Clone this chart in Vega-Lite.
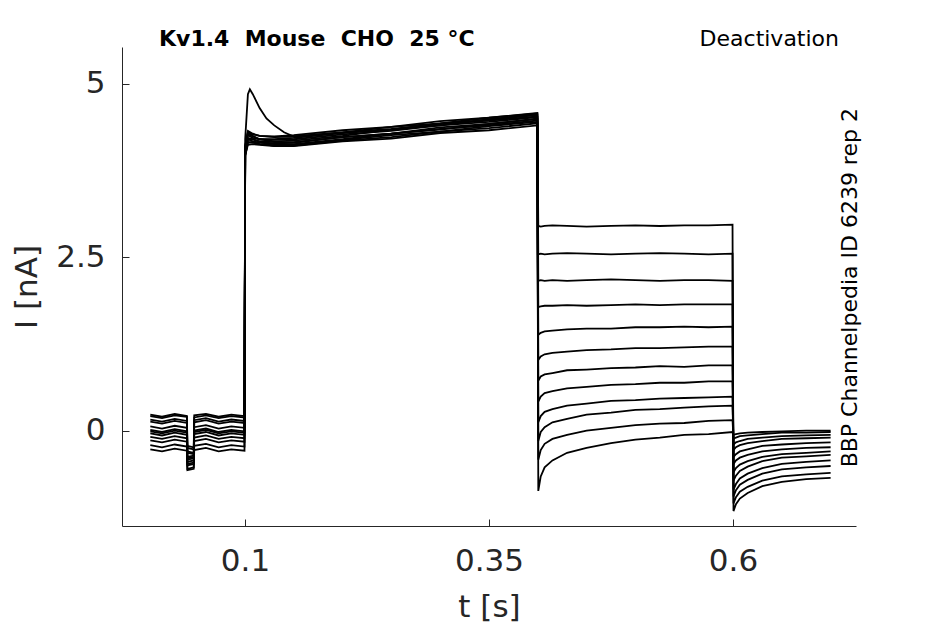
{
  "$schema": "https://vega.github.io/schema/vega-lite/v6.json",
  "autosize": {"type": "none"},
  "width": 734,
  "height": 479,
  "padding": {"left": 122, "top": 47, "right": 89, "bottom": 98},
  "background": "white",
  "config": {
    "font": "DejaVu Sans",
    "view": {"stroke": null},
    "axis": {
      "domainColor": "#262626", "tickColor": "#262626", "labelColor": "#262626", "titleColor": "#262626",
      "labelFont": "DejaVu Sans", "titleFont": "DejaVu Sans", "labelFontSize": 31, "titleFontSize": 31,
      "titleFontWeight": "normal", "grid": false, "tickSize": -7, "domainWidth": 1, "tickWidth": 1
    }
  },
  "encoding": {
    "x": {"field": "t", "type": "quantitative",
      "scale": {"domain": [-0.026, 0.726], "nice": false, "zero": false},
      "axis": {"values": [0.1, 0.35, 0.6], "labelExpr": "'' + datum.value", "title": "t [s]", "labelPadding": 27, "titlePadding": 16}},
    "y": {"field": "i", "type": "quantitative",
      "scale": {"domain": [-1.375, 5.53], "nice": false, "zero": false},
      "axis": {"values": [0, 2.5, 5], "labelExpr": "'' + datum.value", "title": "I [nA]", "labelPadding": 24, "titlePadding": 12}}
  },
  "layer": [
    {
      "data": {"values": [
        {"k":1,"t":0.003,"i":0.21},{"k":1,"t":0.015,"i":0.18},{"k":1,"t":0.028,"i":0.22},{"k":1,"t":0.0405,"i":0.20},{"k":1,"t":0.041,"i":-0.25},{"k":1,"t":0.0475,"i":-0.27},{"k":1,"t":0.048,"i":0.19},{"k":1,"t":0.06,"i":0.22},{"k":1,"t":0.073,"i":0.18},{"k":1,"t":0.086,"i":0.21},{"k":1,"t":0.0995,"i":0.19},
        {"k":1,"t":0.1002,"i":4.05},{"k":1,"t":0.103,"i":4.28},{"k":1,"t":0.108,"i":4.24},{"k":1,"t":0.115,"i":4.2},{"k":1,"t":0.13,"i":4.2},{"k":1,"t":0.15,"i":4.22},{"k":1,"t":0.2,"i":4.29},{"k":1,"t":0.25,"i":4.34},{"k":1,"t":0.3,"i":4.43},{"k":1,"t":0.35,"i":4.48},{"k":1,"t":0.3995,"i":4.55},
        {"k":1,"t":0.4005,"i":2.95},{"k":1,"t":0.403,"i":2.94},{"k":1,"t":0.407,"i":2.95},{"k":1,"t":0.415,"i":2.96},{"k":1,"t":0.43,"i":2.95},{"k":1,"t":0.45,"i":2.94},{"k":1,"t":0.475,"i":2.95},{"k":1,"t":0.5,"i":2.96},{"k":1,"t":0.525,"i":2.95},{"k":1,"t":0.55,"i":2.96},{"k":1,"t":0.575,"i":2.96},{"k":1,"t":0.5995,"i":2.97},
        {"k":1,"t":0.6005,"i":-1.16},{"k":1,"t":0.603,"i":-1.06},{"k":1,"t":0.607,"i":-0.98},{"k":1,"t":0.615,"i":-0.9},{"k":1,"t":0.63,"i":-0.8},{"k":1,"t":0.65,"i":-0.74},{"k":1,"t":0.675,"i":-0.7},{"k":1,"t":0.7,"i":-0.68},

        {"k":2,"t":0.003,"i":-0.04},{"k":2,"t":0.015,"i":-0.07},{"k":2,"t":0.028,"i":-0.03},{"k":2,"t":0.0405,"i":-0.06},{"k":2,"t":0.041,"i":-0.45},{"k":2,"t":0.0475,"i":-0.43},{"k":2,"t":0.048,"i":-0.05},{"k":2,"t":0.06,"i":-0.02},{"k":2,"t":0.073,"i":-0.07},{"k":2,"t":0.086,"i":-0.04},{"k":2,"t":0.0995,"i":-0.06},
        {"k":2,"t":0.1002,"i":3.98},{"k":2,"t":0.103,"i":4.2},{"k":2,"t":0.108,"i":4.2},{"k":2,"t":0.115,"i":4.16},{"k":2,"t":0.13,"i":4.14},{"k":2,"t":0.15,"i":4.15},{"k":2,"t":0.2,"i":4.23},{"k":2,"t":0.25,"i":4.28},{"k":2,"t":0.3,"i":4.37},{"k":2,"t":0.35,"i":4.42},{"k":2,"t":0.3995,"i":4.5},
        {"k":2,"t":0.4005,"i":2.54},{"k":2,"t":0.403,"i":2.55},{"k":2,"t":0.407,"i":2.54},{"k":2,"t":0.415,"i":2.55},{"k":2,"t":0.43,"i":2.56},{"k":2,"t":0.45,"i":2.55},{"k":2,"t":0.475,"i":2.54},{"k":2,"t":0.5,"i":2.55},{"k":2,"t":0.525,"i":2.56},{"k":2,"t":0.55,"i":2.55},{"k":2,"t":0.575,"i":2.54},{"k":2,"t":0.5995,"i":2.55},
        {"k":2,"t":0.6005,"i":-1.05},{"k":2,"t":0.603,"i":-0.96},{"k":2,"t":0.607,"i":-0.88},{"k":2,"t":0.615,"i":-0.81},{"k":2,"t":0.63,"i":-0.72},{"k":2,"t":0.65,"i":-0.66},{"k":2,"t":0.675,"i":-0.63},{"k":2,"t":0.7,"i":-0.61},

        {"k":3,"t":0.003,"i":0.13},{"k":3,"t":0.015,"i":0.10},{"k":3,"t":0.028,"i":0.14},{"k":3,"t":0.0405,"i":0.11},{"k":3,"t":0.041,"i":-0.32},{"k":3,"t":0.0475,"i":-0.34},{"k":3,"t":0.048,"i":0.12},{"k":3,"t":0.06,"i":0.15},{"k":3,"t":0.073,"i":0.10},{"k":3,"t":0.086,"i":0.13},{"k":3,"t":0.0995,"i":0.11},
        {"k":3,"t":0.1002,"i":4.1},{"k":3,"t":0.103,"i":4.32},{"k":3,"t":0.108,"i":4.28},{"k":3,"t":0.115,"i":4.25},{"k":3,"t":0.13,"i":4.24},{"k":3,"t":0.15,"i":4.26},{"k":3,"t":0.2,"i":4.33},{"k":3,"t":0.25,"i":4.38},{"k":3,"t":0.3,"i":4.46},{"k":3,"t":0.35,"i":4.51},{"k":3,"t":0.3995,"i":4.58},
        {"k":3,"t":0.4005,"i":2.16},{"k":3,"t":0.403,"i":2.17},{"k":3,"t":0.407,"i":2.16},{"k":3,"t":0.415,"i":2.17},{"k":3,"t":0.43,"i":2.16},{"k":3,"t":0.45,"i":2.17},{"k":3,"t":0.475,"i":2.18},{"k":3,"t":0.5,"i":2.17},{"k":3,"t":0.525,"i":2.16},{"k":3,"t":0.55,"i":2.17},{"k":3,"t":0.575,"i":2.17},{"k":3,"t":0.5995,"i":2.16},
        {"k":3,"t":0.6005,"i":-0.95},{"k":3,"t":0.603,"i":-0.86},{"k":3,"t":0.607,"i":-0.78},{"k":3,"t":0.615,"i":-0.71},{"k":3,"t":0.63,"i":-0.62},{"k":3,"t":0.65,"i":-0.56},{"k":3,"t":0.675,"i":-0.53},{"k":3,"t":0.7,"i":-0.51},

        {"k":4,"t":0.003,"i":-0.21},{"k":4,"t":0.015,"i":-0.24},{"k":4,"t":0.028,"i":-0.20},{"k":4,"t":0.0405,"i":-0.23},{"k":4,"t":0.041,"i":-0.55},{"k":4,"t":0.0475,"i":-0.53},{"k":4,"t":0.048,"i":-0.22},{"k":4,"t":0.06,"i":-0.19},{"k":4,"t":0.073,"i":-0.24},{"k":4,"t":0.086,"i":-0.21},{"k":4,"t":0.0995,"i":-0.23},
        {"k":4,"t":0.1002,"i":3.96},{"k":4,"t":0.103,"i":4.15},{"k":4,"t":0.108,"i":4.16},{"k":4,"t":0.115,"i":4.13},{"k":4,"t":0.13,"i":4.11},{"k":4,"t":0.15,"i":4.12},{"k":4,"t":0.2,"i":4.19},{"k":4,"t":0.25,"i":4.26},{"k":4,"t":0.3,"i":4.31},{"k":4,"t":0.35,"i":4.39},{"k":4,"t":0.3995,"i":4.45},
        {"k":4,"t":0.4005,"i":1.78},{"k":4,"t":0.403,"i":1.79},{"k":4,"t":0.407,"i":1.80},{"k":4,"t":0.415,"i":1.80},{"k":4,"t":0.43,"i":1.81},{"k":4,"t":0.45,"i":1.80},{"k":4,"t":0.475,"i":1.81},{"k":4,"t":0.5,"i":1.82},{"k":4,"t":0.525,"i":1.81},{"k":4,"t":0.55,"i":1.82},{"k":4,"t":0.575,"i":1.82},{"k":4,"t":0.5995,"i":1.82},
        {"k":4,"t":0.6005,"i":-0.85},{"k":4,"t":0.603,"i":-0.77},{"k":4,"t":0.607,"i":-0.69},{"k":4,"t":0.615,"i":-0.62},{"k":4,"t":0.63,"i":-0.54},{"k":4,"t":0.65,"i":-0.48},{"k":4,"t":0.675,"i":-0.45},{"k":4,"t":0.7,"i":-0.43},

        {"k":5,"t":0.003,"i":0.06},{"k":5,"t":0.015,"i":0.03},{"k":5,"t":0.028,"i":0.07},{"k":5,"t":0.0405,"i":0.04},{"k":5,"t":0.041,"i":-0.38},{"k":5,"t":0.0475,"i":-0.36},{"k":5,"t":0.048,"i":0.05},{"k":5,"t":0.06,"i":0.08},{"k":5,"t":0.073,"i":0.03},{"k":5,"t":0.086,"i":0.06},{"k":5,"t":0.0995,"i":0.04},
        {"k":5,"t":0.1002,"i":4.05},{"k":5,"t":0.103,"i":4.26},{"k":5,"t":0.108,"i":4.22},{"k":5,"t":0.115,"i":4.2},{"k":5,"t":0.13,"i":4.19},{"k":5,"t":0.15,"i":4.2},{"k":5,"t":0.2,"i":4.27},{"k":5,"t":0.25,"i":4.32},{"k":5,"t":0.3,"i":4.4},{"k":5,"t":0.35,"i":4.45},{"k":5,"t":0.3995,"i":4.52},
        {"k":5,"t":0.4005,"i":1.38},{"k":5,"t":0.403,"i":1.41},{"k":5,"t":0.407,"i":1.43},{"k":5,"t":0.415,"i":1.44},{"k":5,"t":0.43,"i":1.46},{"k":5,"t":0.45,"i":1.47},{"k":5,"t":0.475,"i":1.47},{"k":5,"t":0.5,"i":1.49},{"k":5,"t":0.525,"i":1.49},{"k":5,"t":0.55,"i":1.50},{"k":5,"t":0.575,"i":1.49},{"k":5,"t":0.5995,"i":1.50},
        {"k":5,"t":0.6005,"i":-0.72},{"k":5,"t":0.603,"i":-0.65},{"k":5,"t":0.607,"i":-0.58},{"k":5,"t":0.615,"i":-0.52},{"k":5,"t":0.63,"i":-0.44},{"k":5,"t":0.65,"i":-0.39},{"k":5,"t":0.675,"i":-0.37},{"k":5,"t":0.7,"i":-0.35},

        {"k":6,"t":0.003,"i":-0.14},{"k":6,"t":0.015,"i":-0.17},{"k":6,"t":0.028,"i":-0.13},{"k":6,"t":0.0405,"i":-0.16},{"k":6,"t":0.041,"i":-0.50},{"k":6,"t":0.0475,"i":-0.48},{"k":6,"t":0.048,"i":-0.15},{"k":6,"t":0.06,"i":-0.12},{"k":6,"t":0.073,"i":-0.17},{"k":6,"t":0.086,"i":-0.14},{"k":6,"t":0.0995,"i":-0.16},
        {"k":6,"t":0.1002,"i":3.97},{"k":6,"t":0.103,"i":4.12},{"k":6,"t":0.108,"i":4.13},{"k":6,"t":0.115,"i":4.12},{"k":6,"t":0.13,"i":4.1},{"k":6,"t":0.15,"i":4.1},{"k":6,"t":0.2,"i":4.17},{"k":6,"t":0.25,"i":4.21},{"k":6,"t":0.3,"i":4.29},{"k":6,"t":0.35,"i":4.33},{"k":6,"t":0.3995,"i":4.4},
        {"k":6,"t":0.4005,"i":1.02},{"k":6,"t":0.403,"i":1.07},{"k":6,"t":0.407,"i":1.10},{"k":6,"t":0.415,"i":1.12},{"k":6,"t":0.43,"i":1.14},{"k":6,"t":0.45,"i":1.16},{"k":6,"t":0.475,"i":1.17},{"k":6,"t":0.5,"i":1.19},{"k":6,"t":0.525,"i":1.19},{"k":6,"t":0.55,"i":1.20},{"k":6,"t":0.575,"i":1.21},{"k":6,"t":0.5995,"i":1.21},
        {"k":6,"t":0.6005,"i":-0.60},{"k":6,"t":0.603,"i":-0.54},{"k":6,"t":0.607,"i":-0.49},{"k":6,"t":0.615,"i":-0.44},{"k":6,"t":0.63,"i":-0.38},{"k":6,"t":0.65,"i":-0.34},{"k":6,"t":0.675,"i":-0.32},{"k":6,"t":0.7,"i":-0.30},

        {"k":7,"t":0.003,"i":0.23},{"k":7,"t":0.015,"i":0.20},{"k":7,"t":0.028,"i":0.24},{"k":7,"t":0.0405,"i":0.21},{"k":7,"t":0.041,"i":-0.22},{"k":7,"t":0.0475,"i":-0.24},{"k":7,"t":0.048,"i":0.22},{"k":7,"t":0.06,"i":0.24},{"k":7,"t":0.073,"i":0.20},{"k":7,"t":0.086,"i":0.23},{"k":7,"t":0.0995,"i":0.21},
        {"k":7,"t":0.1002,"i":4.08},{"k":7,"t":0.103,"i":4.3},{"k":7,"t":0.108,"i":4.25},{"k":7,"t":0.115,"i":4.2},{"k":7,"t":0.13,"i":4.17},{"k":7,"t":0.15,"i":4.18},{"k":7,"t":0.2,"i":4.25},{"k":7,"t":0.25,"i":4.34},{"k":7,"t":0.3,"i":4.4},{"k":7,"t":0.35,"i":4.49},{"k":7,"t":0.3995,"i":4.56},
        {"k":7,"t":0.4005,"i":0.72},{"k":7,"t":0.403,"i":0.78},{"k":7,"t":0.407,"i":0.81},{"k":7,"t":0.415,"i":0.83},{"k":7,"t":0.43,"i":0.87},{"k":7,"t":0.45,"i":0.88},{"k":7,"t":0.475,"i":0.90},{"k":7,"t":0.5,"i":0.91},{"k":7,"t":0.525,"i":0.93},{"k":7,"t":0.55,"i":0.92},{"k":7,"t":0.575,"i":0.94},{"k":7,"t":0.5995,"i":0.94},
        {"k":7,"t":0.6005,"i":-0.48},{"k":7,"t":0.603,"i":-0.43},{"k":7,"t":0.607,"i":-0.39},{"k":7,"t":0.615,"i":-0.35},{"k":7,"t":0.63,"i":-0.30},{"k":7,"t":0.65,"i":-0.27},{"k":7,"t":0.675,"i":-0.25},{"k":7,"t":0.7,"i":-0.24},

        {"k":8,"t":0.003,"i":-0.27},{"k":8,"t":0.015,"i":-0.30},{"k":8,"t":0.028,"i":-0.26},{"k":8,"t":0.0405,"i":-0.29},{"k":8,"t":0.041,"i":-0.57},{"k":8,"t":0.0475,"i":-0.55},{"k":8,"t":0.048,"i":-0.28},{"k":8,"t":0.06,"i":-0.25},{"k":8,"t":0.073,"i":-0.30},{"k":8,"t":0.086,"i":-0.27},{"k":8,"t":0.0995,"i":-0.29},
        {"k":8,"t":0.1002,"i":4.0},{"k":8,"t":0.103,"i":4.22},{"k":8,"t":0.108,"i":4.2},{"k":8,"t":0.115,"i":4.17},{"k":8,"t":0.13,"i":4.16},{"k":8,"t":0.15,"i":4.16},{"k":8,"t":0.2,"i":4.23},{"k":8,"t":0.25,"i":4.28},{"k":8,"t":0.3,"i":4.35},{"k":8,"t":0.35,"i":4.4},{"k":8,"t":0.3995,"i":4.47},
        {"k":8,"t":0.4005,"i":0.42},{"k":8,"t":0.403,"i":0.49},{"k":8,"t":0.407,"i":0.54},{"k":8,"t":0.415,"i":0.57},{"k":8,"t":0.43,"i":0.61},{"k":8,"t":0.45,"i":0.63},{"k":8,"t":0.475,"i":0.66},{"k":8,"t":0.5,"i":0.67},{"k":8,"t":0.525,"i":0.69},{"k":8,"t":0.55,"i":0.69},{"k":8,"t":0.575,"i":0.71},{"k":8,"t":0.5995,"i":0.71},
        {"k":8,"t":0.6005,"i":-0.38},{"k":8,"t":0.603,"i":-0.34},{"k":8,"t":0.607,"i":-0.30},{"k":8,"t":0.615,"i":-0.27},{"k":8,"t":0.63,"i":-0.22},{"k":8,"t":0.65,"i":-0.20},{"k":8,"t":0.675,"i":-0.18},{"k":8,"t":0.7,"i":-0.17},

        {"k":9,"t":0.003,"i":0.01},{"k":9,"t":0.015,"i":-0.02},{"k":9,"t":0.028,"i":0.02},{"k":9,"t":0.0405,"i":-0.01},{"k":9,"t":0.041,"i":-0.40},{"k":9,"t":0.0475,"i":-0.38},{"k":9,"t":0.048,"i":0.0},{"k":9,"t":0.06,"i":0.03},{"k":9,"t":0.073,"i":-0.02},{"k":9,"t":0.086,"i":0.01},{"k":9,"t":0.0995,"i":-0.01},
        {"k":9,"t":0.1002,"i":3.98},{"k":9,"t":0.103,"i":4.16},{"k":9,"t":0.108,"i":4.15},{"k":9,"t":0.115,"i":4.13},{"k":9,"t":0.13,"i":4.11},{"k":9,"t":0.15,"i":4.11},{"k":9,"t":0.2,"i":4.18},{"k":9,"t":0.25,"i":4.23},{"k":9,"t":0.3,"i":4.31},{"k":9,"t":0.35,"i":4.36},{"k":9,"t":0.3995,"i":4.43},
        {"k":9,"t":0.4005,"i":0.12},{"k":9,"t":0.403,"i":0.21},{"k":9,"t":0.407,"i":0.27},{"k":9,"t":0.415,"i":0.31},{"k":9,"t":0.43,"i":0.36},{"k":9,"t":0.45,"i":0.39},{"k":9,"t":0.475,"i":0.43},{"k":9,"t":0.5,"i":0.44},{"k":9,"t":0.525,"i":0.46},{"k":9,"t":0.55,"i":0.47},{"k":9,"t":0.575,"i":0.48},{"k":9,"t":0.5995,"i":0.49},
        {"k":9,"t":0.6005,"i":-0.28},{"k":9,"t":0.603,"i":-0.24},{"k":9,"t":0.607,"i":-0.21},{"k":9,"t":0.615,"i":-0.18},{"k":9,"t":0.63,"i":-0.15},{"k":9,"t":0.65,"i":-0.12},{"k":9,"t":0.675,"i":-0.11},{"k":9,"t":0.7,"i":-0.10},

        {"k":10,"t":0.003,"i":0.16},{"k":10,"t":0.015,"i":0.13},{"k":10,"t":0.028,"i":0.17},{"k":10,"t":0.0405,"i":0.14},{"k":10,"t":0.041,"i":-0.30},{"k":10,"t":0.0475,"i":-0.32},{"k":10,"t":0.048,"i":0.15},{"k":10,"t":0.06,"i":0.18},{"k":10,"t":0.073,"i":0.13},{"k":10,"t":0.086,"i":0.16},{"k":10,"t":0.0995,"i":0.14},
        {"k":10,"t":0.1002,"i":4.1},{"k":10,"t":0.103,"i":4.3},{"k":10,"t":0.108,"i":4.27},{"k":10,"t":0.115,"i":4.25},{"k":10,"t":0.13,"i":4.23},{"k":10,"t":0.15,"i":4.24},{"k":10,"t":0.2,"i":4.3},{"k":10,"t":0.25,"i":4.35},{"k":10,"t":0.3,"i":4.42},{"k":10,"t":0.35,"i":4.47},{"k":10,"t":0.3995,"i":4.53},
        {"k":10,"t":0.4005,"i":-0.15},{"k":10,"t":0.403,"i":-0.02},{"k":10,"t":0.407,"i":0.05},{"k":10,"t":0.415,"i":0.12},{"k":10,"t":0.43,"i":0.17},{"k":10,"t":0.45,"i":0.23},{"k":10,"t":0.475,"i":0.26},{"k":10,"t":0.5,"i":0.30},{"k":10,"t":0.525,"i":0.31},{"k":10,"t":0.55,"i":0.33},{"k":10,"t":0.575,"i":0.35},{"k":10,"t":0.5995,"i":0.36},
        {"k":10,"t":0.6005,"i":-0.20},{"k":10,"t":0.603,"i":-0.17},{"k":10,"t":0.607,"i":-0.15},{"k":10,"t":0.615,"i":-0.12},{"k":10,"t":0.63,"i":-0.10},{"k":10,"t":0.65,"i":-0.08},{"k":10,"t":0.675,"i":-0.07},{"k":10,"t":0.7,"i":-0.06},

        {"k":11,"t":0.003,"i":-0.09},{"k":11,"t":0.015,"i":-0.12},{"k":11,"t":0.028,"i":-0.08},{"k":11,"t":0.0405,"i":-0.11},{"k":11,"t":0.041,"i":-0.48},{"k":11,"t":0.0475,"i":-0.46},{"k":11,"t":0.048,"i":-0.10},{"k":11,"t":0.06,"i":-0.07},{"k":11,"t":0.073,"i":-0.12},{"k":11,"t":0.086,"i":-0.09},{"k":11,"t":0.0995,"i":-0.11},
        {"k":11,"t":0.1002,"i":4.0},{"k":11,"t":0.103,"i":4.2},{"k":11,"t":0.108,"i":4.17},{"k":11,"t":0.115,"i":4.15},{"k":11,"t":0.13,"i":4.13},{"k":11,"t":0.15,"i":4.13},{"k":11,"t":0.2,"i":4.2},{"k":11,"t":0.25,"i":4.28},{"k":11,"t":0.3,"i":4.34},{"k":11,"t":0.35,"i":4.42},{"k":11,"t":0.3995,"i":4.49},
        {"k":11,"t":0.4005,"i":-0.42},{"k":11,"t":0.403,"i":-0.28},{"k":11,"t":0.407,"i":-0.19},{"k":11,"t":0.415,"i":-0.12},{"k":11,"t":0.43,"i":-0.06},{"k":11,"t":0.45,"i":0.0},{"k":11,"t":0.475,"i":0.04},{"k":11,"t":0.5,"i":0.08},{"k":11,"t":0.525,"i":0.10},{"k":11,"t":0.55,"i":0.11},{"k":11,"t":0.575,"i":0.14},{"k":11,"t":0.5995,"i":0.15},
        {"k":11,"t":0.6005,"i":-0.12},{"k":11,"t":0.603,"i":-0.10},{"k":11,"t":0.607,"i":-0.08},{"k":11,"t":0.615,"i":-0.07},{"k":11,"t":0.63,"i":-0.05},{"k":11,"t":0.65,"i":-0.03},{"k":11,"t":0.675,"i":-0.03},{"k":11,"t":0.7,"i":-0.02},

        {"k":12,"t":0.003,"i":-0.01},{"k":12,"t":0.015,"i":-0.04},{"k":12,"t":0.028,"i":0.0},{"k":12,"t":0.0405,"i":-0.03},{"k":12,"t":0.041,"i":-0.42},{"k":12,"t":0.0475,"i":-0.40},{"k":12,"t":0.048,"i":-0.02},{"k":12,"t":0.06,"i":0.01},{"k":12,"t":0.073,"i":-0.04},{"k":12,"t":0.086,"i":-0.01},{"k":12,"t":0.0995,"i":-0.03},
        {"k":12,"t":0.1002,"i":4.2},{"k":12,"t":0.103,"i":4.85},{"k":12,"t":0.105,"i":4.92},{"k":12,"t":0.108,"i":4.85},{"k":12,"t":0.115,"i":4.65},{"k":12,"t":0.122,"i":4.5},{"k":12,"t":0.13,"i":4.4},{"k":12,"t":0.14,"i":4.3},{"k":12,"t":0.15,"i":4.24},{"k":12,"t":0.2,"i":4.3},{"k":12,"t":0.25,"i":4.38},{"k":12,"t":0.3,"i":4.43},{"k":12,"t":0.35,"i":4.51},{"k":12,"t":0.3995,"i":4.57},
        {"k":12,"t":0.4005,"i":-0.87},{"k":12,"t":0.403,"i":-0.66},{"k":12,"t":0.407,"i":-0.53},{"k":12,"t":0.415,"i":-0.43},{"k":12,"t":0.43,"i":-0.32},{"k":12,"t":0.45,"i":-0.25},{"k":12,"t":0.475,"i":-0.18},{"k":12,"t":0.5,"i":-0.13},{"k":12,"t":0.525,"i":-0.10},{"k":12,"t":0.55,"i":-0.06},{"k":12,"t":0.575,"i":-0.05},{"k":12,"t":0.5995,"i":-0.02},
        {"k":12,"t":0.6005,"i":-0.06},{"k":12,"t":0.603,"i":-0.05},{"k":12,"t":0.607,"i":-0.04},{"k":12,"t":0.615,"i":-0.03},{"k":12,"t":0.63,"i":-0.02},{"k":12,"t":0.65,"i":-0.01},{"k":12,"t":0.675,"i":0.0},{"k":12,"t":0.7,"i":0.0}
      ]},
      "mark": {"type": "line", "color": "black", "strokeWidth": 1.8, "clip": true},
      "encoding": {"detail": {"field": "k", "type": "nominal"}}
    },
    {
      "data": {"values": [{"t": 0.0119, "i": 5.54, "label": "Kv1.4\u00a0 Mouse\u00a0 CHO\u00a0 25 °C"}]},
      "mark": {"type": "text", "align": "left", "baseline": "alphabetic", "fontSize": 22, "fontWeight": "bold", "font": "DejaVu Sans", "color": "black"},
      "encoding": {"text": {"field": "label"}}
    },
    {
      "data": {"values": [{"t": 0.7086, "i": 5.54, "label": "Deactivation"}]},
      "mark": {"type": "text", "align": "right", "baseline": "alphabetic", "fontSize": 22, "font": "DejaVu Sans", "color": "black"},
      "encoding": {"text": {"field": "label"}}
    },
    {
      "data": {"values": [{"t": 0.727, "i": 2.06, "label": "BBP Channelpedia ID 6239 rep 2"}]},
      "mark": {"type": "text", "align": "center", "baseline": "alphabetic", "angle": 270, "fontSize": 22, "font": "DejaVu Sans", "color": "black"},
      "encoding": {"text": {"field": "label"}}
    }
  ]
}
